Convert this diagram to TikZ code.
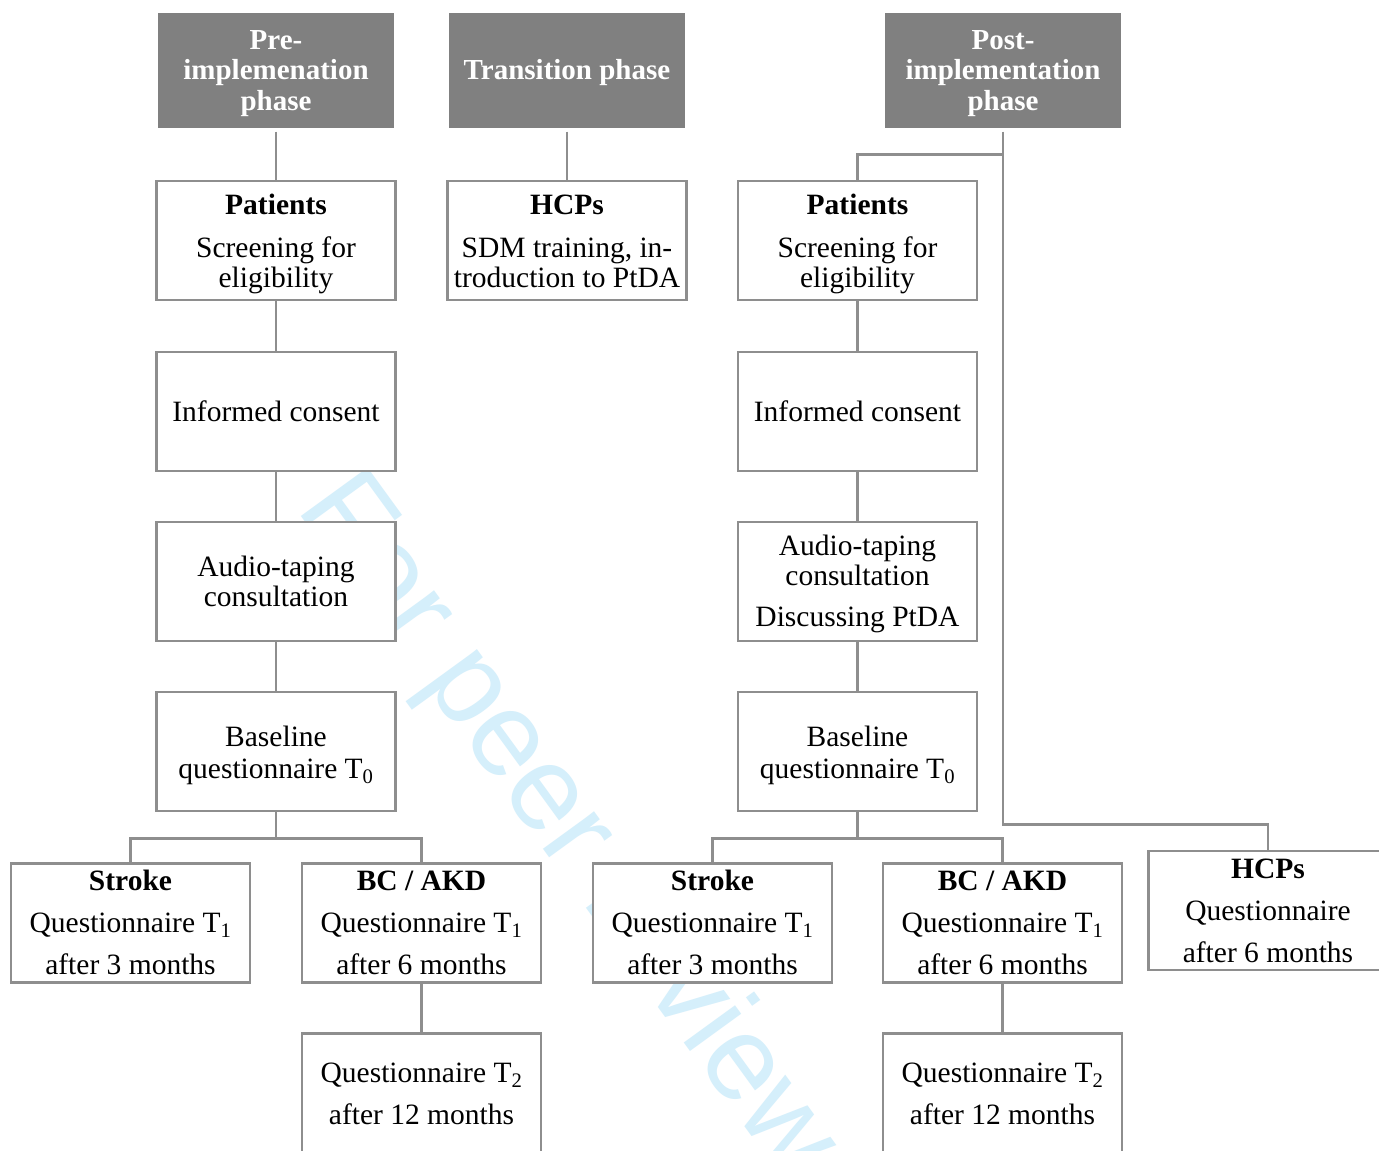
\documentclass[tikz,border=0pt]{standalone}
\usepackage{fontspec}
\setmainfont{Liberation Serif}
\newfontfamily\wmfont{Liberation Sans}
\usetikzlibrary{calc}
\definecolor{hdr}{RGB}{128,128,128}
\definecolor{ln}{RGB}{142,142,142}
\definecolor{wm}{RGB}{213,239,251}
\tikzset{
  hdrbox/.style={fill=hdr, draw=hdr, minimum width=235, minimum height=114, inner sep=0pt},
  hdrtxt/.style={text=white, font=\bfseries\fontsize{29}{30.5}\selectfont, align=center, inner sep=0pt},
  box/.style={draw=ln, line width=2.6pt, fill=white, minimum width=239, minimum height=119, inner sep=0pt},
  txt/.style={align=center, inner sep=0pt, font=\fontsize{29.5}{30}\selectfont},
  conn/.style={draw=ln, line width=2.6pt},
  hconn/.style={conn, shorten <=4pt},
  wmark/.style={text=wm, font=\wmfont\fontsize{120}{130}\selectfont, inner sep=0pt},
}
\begin{document}
\begin{tikzpicture}[x=1pt,y=-1pt]
\useasboundingbox (0,0) rectangle (1379,1151);
\clip (0,0) rectangle (1379,1151);
\fill[white] (0,0) rectangle (1379,1151);

% watermark
\node[wmark, rotate=-54] (wm) at (566,827) {For peer review};

% headers
\node[hdrbox] (preH)  at (276,70.5)  {};
\node[hdrbox] (trH)   at (567,70.5)  {};
\node[hdrbox] (postH) at (1003,70.5) {};
\node[hdrtxt] (preHt)  at ([yshift=-3pt]preH.center)  {Pre-\\implemenation\\phase};
\node[hdrtxt] (trHt)   at ([yshift=-2pt]trH.center)   {Transition phase};
\node[hdrtxt] (postHt) at ([yshift=-3pt]postH.center) {Post-\\implementation\\phase};

% boxes
\node[box] (preP)   at (276,240.5)   {};
\node[box] (preI)   at (276,411.5)   {};
\node[box] (preA)   at (276,581.5)   {};
\node[box] (preB)   at (276,751.5)   {};
\node[box] (preS)   at (130.5,923)   {};
\node[box] (preBC)  at (421.5,923)   {};
\node[box] (preT)   at (421.5,1093)  {};
\node[box] (hcpT)   at (567,240.5)   {};
\node[box] (postP)  at (857.5,240.5) {};
\node[box] (postI)  at (857.5,411.5) {};
\node[box] (postA)  at (857.5,581.5) {};
\node[box] (postB)  at (857.5,751.5) {};
\node[box] (postS)  at (712.5,923)   {};
\node[box] (postBC) at (1002.5,923)  {};
\node[box] (postT)  at (1002.5,1093) {};
\node[box] (hcpP)   at (1268,910.5)  {};

% texts
\node[txt] (prePt)  at ([yshift=-3pt]preP.center)  {{\bfseries Patients}\\[13pt]Screening for\\eligibility};
\node[txt] (preIt)  at (preI.center)               {Informed consent};
\node[txt] (preAt)  at (preA.center)               {Audio-taping\\consultation};
\node[txt] (preBt)  at ([yshift=-3.5pt]preB.center) {Baseline\\[2pt]questionnaire T\textsubscript{0}};
\node[txt] (preSt)  at ([yshift=1pt]preS.center)   {{\bfseries Stroke}\\[12pt]Questionnaire T\textsubscript{1}\\[12pt]after 3 months};
\node[txt] (preBCt) at (preBC.center)              {{\bfseries BC / AKD}\\[12pt]Questionnaire T\textsubscript{1}\\[12pt]after 6 months};
\node[txt] (preTt)  at ([yshift=-1pt]preT.center)  {Questionnaire T\textsubscript{2}\\[12pt]after 12 months};
\node[txt] (hcpTt)  at ([yshift=-1pt]hcpT.center)  {{\bfseries HCPs}\\[13pt]SDM training, in-\\troduction to PtDA};
\node[txt] (postPt) at ([yshift=-3pt]postP.center) {{\bfseries Patients}\\[13pt]Screening for\\eligibility};
\node[txt] (postIt) at (postI.center)              {Informed consent};
\node[txt] (postAt) at ([yshift=-2.5pt]postA.center) {Audio-taping\\consultation\\[11pt]Discussing PtDA};
\node[txt] (postBt) at ([yshift=-3.5pt]postB.center) {Baseline\\[2pt]questionnaire T\textsubscript{0}};
\node[txt] (postSt) at ([yshift=1pt]postS.center)  {{\bfseries Stroke}\\[12pt]Questionnaire T\textsubscript{1}\\[12pt]after 3 months};
\node[txt] (postBCt) at (postBC.center)            {{\bfseries BC / AKD}\\[12pt]Questionnaire T\textsubscript{1}\\[12pt]after 6 months};
\node[txt] (postTt) at ([yshift=-1pt]postT.center) {Questionnaire T\textsubscript{2}\\[12pt]after 12 months};
\node[txt] (hcpPt)  at (hcpP.center)               {{\bfseries HCPs}\\[12pt]Questionnaire\\[12pt]after 6 months};

% connectors left
\draw[hconn] (preH) -- (preP);
\draw[conn] (preP) -- (preI);
\draw[conn] (preI) -- (preA);
\draw[conn] (preA) -- (preB);
\draw[conn] (preB.south) -- ++(0,26) -| (preS.north);
\draw[conn] (preB.south) -- ++(0,26) -| (preBC.north);
\draw[conn] (preBC) -- (preT);

% transition
\draw[hconn] (trH) -- (hcpT);

% connectors right
\draw[hconn] (postH.south) |- ($(hcpP.north)+(0,-25)$) -| (hcpP.north);
\draw[conn] (postH.south) ++(0,27) -| (postP.north);
\draw[conn] (postP) -- (postI);
\draw[conn] (postI) -- (postA);
\draw[conn] (postA) -- (postB);
\draw[conn] (postB.south) -- ++(0,26) -| (postS.north);
\draw[conn] (postB.south) -- ++(0,26) -| (postBC.north);
\draw[conn] (postBC) -- (postT);
\end{tikzpicture}
\end{document}
